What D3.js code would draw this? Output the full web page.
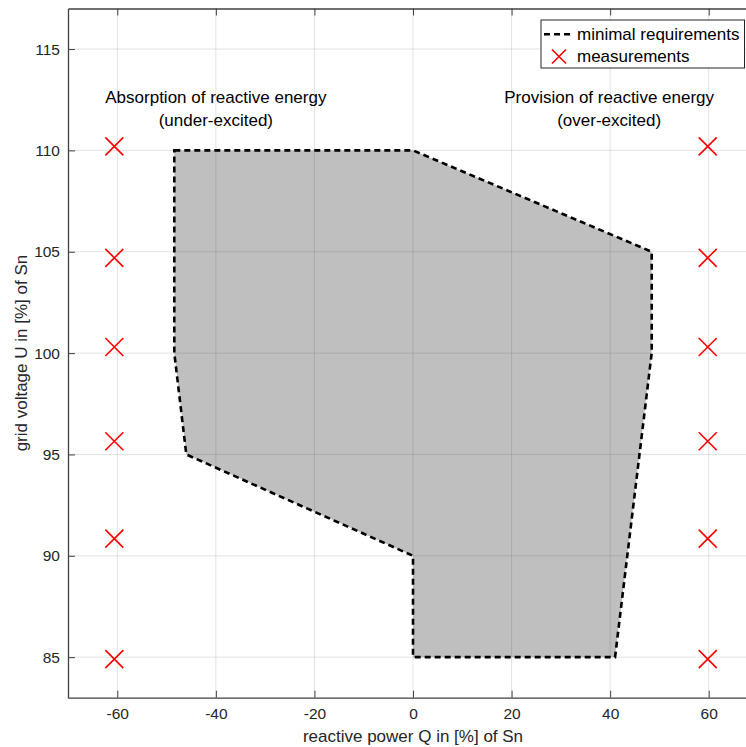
<!DOCTYPE html>
<html><head><meta charset="utf-8">
<script src="https://d3js.org/d3.v7.min.js"></script>
<style>body{margin:0;background:#fff;overflow:hidden}svg{display:block;font-family:"Liberation Sans",Arial,sans-serif}</style>
</head><body><svg id="c" width="746" height="747"></svg>
<script>
const xTicks = [-60, -40, -20, 0, 20, 40, 60];
const yTicks = [85, 90, 95, 100, 105, 110, 115];
const reqQ = [-48.43, 0, 48.43, 48.43, 41, 0, 0, -46, -48.43, -48.43];
const reqU = [110, 110, 105, 100, 85, 85, 90, 95, 100, 110];
const measLeftQ = [-60.6, -60.6, -60.6, -60.6, -60.6, -60.6];
const measRightQ = [59.8, 59.8, 59.8, 59.8, 59.8, 59.8];
const measU = [110.2, 104.7, 100.3, 95.65, 90.85, 84.9];
const labels = [
  {q: -40, u: 112.32, t: "Absorption of reactive energy"},
  {q: -40, u: 111.18, t: "(under-excited)"},
  {q: 39.8, u: 112.32, t: "Provision of reactive energy"},
  {q: 39.8, u: 111.18, t: "(over-excited)"}
];

const svg = d3.select("#c");
const L = 68, R = 758, T = 8.5, B = 697.7;
const x = d3.scaleLinear().domain([-70, 70]).range([L, R]);
const y = d3.scaleLinear().domain([83, 117]).range([B, T]);
const axisCol = "#404040";
const fmt = d => String(d);

// polygon fill
const pts = reqQ.map((q, i) => [x(q), y(reqU[i])]);
svg.append("path").attr("d", d3.line()(pts) + "Z").attr("fill", "#bfbfbf");

// grid
const g = svg.append("g");
xTicks.forEach(t => g.append("line").attr("x1", x(t)).attr("x2", x(t)).attr("y1", T).attr("y2", B)
  .attr("stroke", "rgba(38,38,38,0.13)").attr("stroke-width", 1));
yTicks.forEach(t => g.append("line").attr("y1", y(t)).attr("y2", y(t)).attr("x1", L).attr("x2", R)
  .attr("stroke", "rgba(38,38,38,0.13)").attr("stroke-width", 1));

// dashed outline
svg.append("path").attr("d", d3.line()(pts) + "Z").attr("fill", "none")
  .attr("stroke", "#000").attr("stroke-width", 2.6).attr("stroke-dasharray", "6,4");

// markers
function cross(sel, cx, cy, s) {
  sel.append("path").attr("d", `M${cx - s},${cy - s}L${cx + s},${cy + s}M${cx - s},${cy + s}L${cx + s},${cy - s}`)
    .attr("stroke", "#ff0000").attr("stroke-width", 1.6).attr("fill", "none");
}
measU.forEach((u, i) => { cross(svg, x(measLeftQ[i]), y(u), 9); cross(svg, x(measRightQ[i]), y(u), 9); });

// annotation text
labels.forEach(d => svg.append("text").attr("x", x(d.q)).attr("y", y(d.u)).attr("text-anchor", "middle")
  .attr("font-size", 17).attr("fill", "#000").text(d.t));

// axes
const xa = d3.axisBottom(x).tickValues(xTicks).tickFormat(fmt).tickSizeInner(-7).tickSizeOuter(0).tickPadding(10);
const xg = svg.append("g").attr("transform", `translate(0,${B})`).call(xa);
const xt = d3.axisTop(x).tickValues(xTicks).tickSizeInner(-7).tickSizeOuter(0).tickFormat("");
const xtg = svg.append("g").attr("transform", `translate(0,${T})`).call(xt);
const ya = d3.axisLeft(y).tickValues(yTicks).tickFormat(fmt).tickSizeInner(-7).tickSizeOuter(0).tickPadding(8);
const yg = svg.append("g").attr("transform", `translate(${L},0)`).call(ya);
const yr = d3.axisRight(y).tickValues(yTicks).tickSizeInner(-7).tickSizeOuter(0).tickFormat("");
const yrg = svg.append("g").attr("transform", `translate(${R},0)`).call(yr);
[xg, xtg, yg, yrg].forEach(a => {
  a.selectAll("path").attr("stroke", axisCol).attr("stroke-width", 1.3);
  a.selectAll("line").attr("stroke", axisCol).attr("stroke-width", 1);
  a.selectAll("text").attr("fill", "#262626").attr("font-size", 15.5).attr("font-family", '"Liberation Sans",Arial,sans-serif');
});

// axis labels
svg.append("text").attr("x", x(0)).attr("y", 742).attr("text-anchor", "middle")
  .attr("font-size", 17).attr("fill", "#262626").text("reactive power Q in [%] of Sn");
svg.append("text").attr("transform", `translate(27,${(T + B) / 2}) rotate(-90)`).attr("text-anchor", "middle")
  .attr("font-size", 17).attr("fill", "#262626").text("grid voltage U in [%] of Sn");

// legend
const lg = svg.append("g");
lg.append("rect").attr("x", 541).attr("y", 20).attr("width", 203.5).attr("height", 48)
  .attr("fill", "#fff").attr("stroke", "#262626").attr("stroke-width", 1);
lg.append("line").attr("x1", 544).attr("x2", 572).attr("y1", 34.3).attr("y2", 34.3)
  .attr("stroke", "#000").attr("stroke-width", 2.6).attr("stroke-dasharray", "6,4");
lg.append("text").attr("x", 577).attr("y", 39.5).attr("font-size", 17).attr("fill", "#000").text("minimal requirements");
cross(lg, 559, 56.5, 7);
lg.append("text").attr("x", 577).attr("y", 62).attr("font-size", 17).attr("fill", "#000").text("measurements");
</script></body></html>
